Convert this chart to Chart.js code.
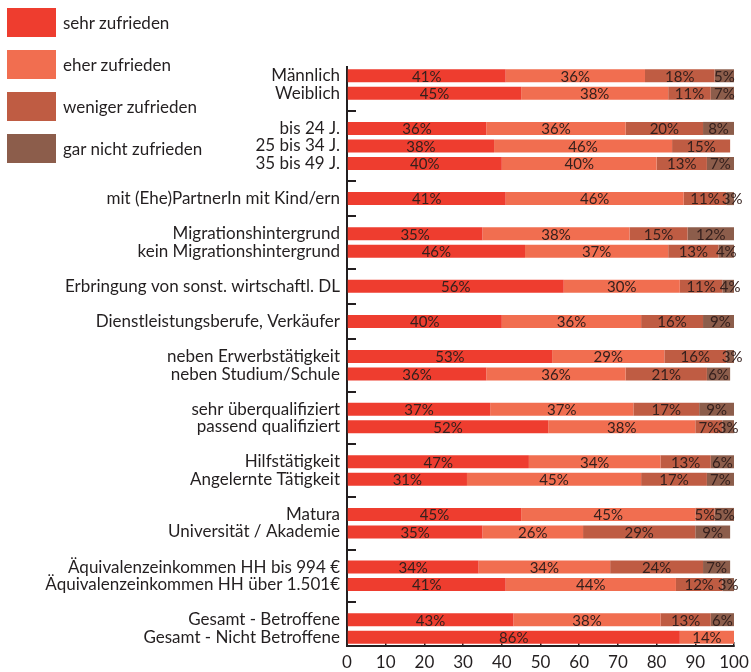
<!DOCTYPE html>
<html>
<head>
<meta charset="utf-8">
<script src="https://cdn.jsdelivr.net/npm/chart.js@4"></script>
<style>
  body { margin: 0; background: #fff; }
  #wrap { position: relative; width: 751px; height: 672px; }
  #legend { position: absolute; left: 7px; top: 8px; font-family: Lato, sans-serif; font-size: 17px; color: #231f20; }
  .item { display: flex; align-items: center; height: 29px; margin-bottom: 13px; }
  .sw { width: 49px; height: 29px; margin-right: 7px; }
</style>
</head>
<body>
<div id="wrap">
  <canvas id="satChart" width="751" height="672"></canvas>
  <div id="legend"></div>
</div>
<script>
var categories = [
  "Männlich", "Weiblich", "",
  "bis 24 J.", "25 bis 34 J.", "35 bis 49 J.", "",
  "mit (Ehe)PartnerIn mit Kind/ern", "",
  "Migrationshintergrund", "kein Migrationshintergrund", "",
  "Erbringung von sonst. wirtschaftl. DL", "",
  "Dienstleistungsberufe, Verkäufer", "",
  "neben Erwerbstätigkeit", "neben Studium/Schule", "",
  "sehr überqualifiziert", "passend qualifiziert", "",
  "Hilfstätigkeit", "Angelernte Tätigkeit", "",
  "Matura", "Universität / Akademie", "",
  "Äquivalenzeinkommen HH bis 994 €", "Äquivalenzeinkommen HH über 1.501€", "",
  "Gesamt - Betroffene", "Gesamt - Nicht Betroffene"
];
var seriesNames = ["sehr zufrieden", "eher zufrieden", "weniger zufrieden", "gar nicht zufrieden"];
var sehrZufrieden = [41, 45, null, 36, 38, 40, null, 41, null, 35, 46, null, 56, null, 40, null, 53, 36, null, 37, 52, null, 47, 31, null, 45, 35, null, 34, 41, null, 43, 86];
var eherZufrieden = [36, 38, null, 36, 46, 40, null, 46, null, 38, 37, null, 30, null, 36, null, 29, 36, null, 37, 38, null, 34, 45, null, 45, 26, null, 34, 44, null, 38, 14];
var wenigerZufrieden = [18, 11, null, 20, 15, 13, null, 11, null, 15, 13, null, 11, null, 16, null, 16, 21, null, 17, 7, null, 13, 17, null, 5, 29, null, 24, 12, null, 13, null];
var garNicht = [5, 7, null, 8, null, 7, null, 3, null, 12, 4, null, 4, null, 9, null, 3, 6, null, 9, 3, null, 6, 7, null, 5, 9, null, 7, 3, null, 6, null];
var xTicks = [0, 10, 20, 30, 40, 50, 60, 70, 80, 90, 100];

var colors = ["#ee3d2f", "#f16e50", "#bf5c43", "#8c5d4b"];
var values = [sehrZufrieden, eherZufrieden, wenigerZufrieden, garNicht];
var dark = "#231f20";

var legend = document.getElementById("legend");
seriesNames.forEach(function (name, i) {
  legend.innerHTML += '<div class="item"><div class="sw" style="background:' + colors[i] + '"></div>' + name + '</div>';
});

// Prozentwerte mittig in die Balken schreiben
var barLabels = {
  id: "barLabels",
  afterDatasetsDraw: function (chart) {
    var ctx = chart.ctx;
    ctx.save();
    ctx.font = "15px Lato";
    ctx.fillStyle = "#35201d";
    ctx.textAlign = "center";
    ctx.textBaseline = "middle";
    chart.data.datasets.forEach(function (ds, i) {
      chart.getDatasetMeta(i).data.forEach(function (bar, j) {
        var v = ds.data[j];
        if (v == null) return;
        var p = bar.getCenterPoint();
        ctx.fillText(v + "%", p.x, p.y + 1);
      });
    });
    ctx.restore();
  }
};

new Chart("satChart", {
  type: "bar",
  data: {
    labels: categories,
    datasets: seriesNames.map(function (name, i) {
      return {
        label: name,
        data: values[i],
        backgroundColor: colors[i],
        borderWidth: 0,
        barPercentage: 0.74,
        categoryPercentage: 1
      };
    })
  },
  plugins: [barLabels],
  options: {
    indexAxis: "y",
    responsive: false,
    animation: false,
    layout: { padding: { top: 67, right: 17, bottom: 0, left: 0 } },
    plugins: {
      legend: { display: false },
      tooltip: { enabled: false }
    },
    scales: {
      x: {
        stacked: true,
        min: 0,
        max: 100,
        afterBuildTicks: function (s) { s.ticks = xTicks.map(function (v) { return { value: v }; }); },
        afterFit: function (s) { s.height = 26; s.paddingLeft = 0; s.paddingRight = 0; },
        border: { color: dark, width: 2 },
        grid: { drawOnChartArea: false, tickLength: -4, color: dark, lineWidth: 1.5 },
        ticks: { color: dark, font: { family: "Lato", size: 17 }, padding: 10, maxRotation: 0 }
      },
      y: {
        stacked: true,
        afterFit: function (s) { s.width = 347; s.paddingTop = 0; s.paddingBottom = 0; },
        border: { color: dark, width: 2 },
        grid: {
          offset: false,
          drawOnChartArea: false,
          tickLength: -9,
          lineWidth: 2,
          color: function (c) { return categories[c.index] === "" ? dark : "rgba(0,0,0,0)"; }
        },
        ticks: { color: dark, font: { family: "Lato", size: 17 }, padding: 16, autoSkip: false }
      }
    }
  }
});
</script>
</body>
</html>
